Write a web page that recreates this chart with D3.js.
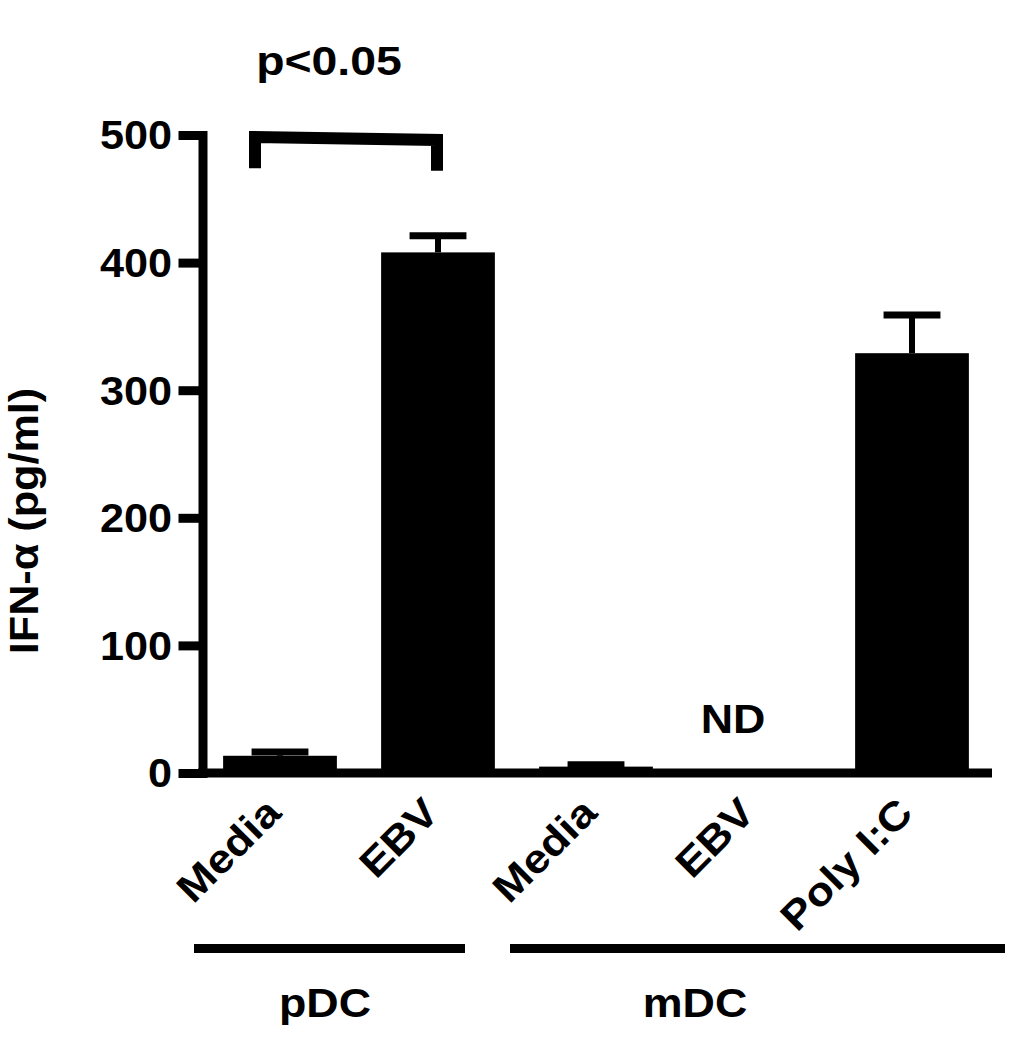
<!DOCTYPE html>
<html>
<head>
<meta charset="utf-8">
<script src="https://cdn.jsdelivr.net/npm/d3@7"></script>
<style>
  html, body { margin: 0; padding: 0; background: #fff; }
  text { font-family: "Liberation Sans", Arial, Helvetica, sans-serif; font-weight: bold; fill: #000; }
</style>
</head>
<body>
<svg id="chart" width="1020" height="1050"></svg>
<script>
// ---- data ----
const categories = ["pDC Media", "pDC EBV", "mDC Media", "mDC EBV", "mDC Poly I:C"];
const tickLabels = ["Media", "EBV", "Media", "EBV", "Poly I:C"];
const means = [13.5, 408, 5, null, 329];
const errors = [3, 13, 1.5, null, 30];
const yTicks = [0, 100, 200, 300, 400, 500];
const groups = ["pDC", "mDC"];
const groupMembers = [["pDC Media", "pDC EBV"], ["mDC Media", "mDC EBV", "mDC Poly I:C"]];
const yTitle = "IFN-α (pg/ml)";
const sigText = "p<0.05";
const ndText = "ND";

// ---- layout ----
const svg = d3.select("#chart");
const SX = 1.12; // horizontal stretch of lettering
const FS = 40;

const y = d3.scaleLinear().domain([0, 500]).range([773, 135]);
const x = d3.scaleBand().domain(categories).range([201, 991]).paddingInner(0.28).paddingOuter(0.14);
const bw = x.bandwidth();
const cx = c => x(c) + bw / 2;

function stretchedText(g, tx, ty, str, opts = {}) {
  const rot = opts.rotate || 0;
  const t = g.append("g").attr("transform", `translate(${tx},${ty}) rotate(${rot}) scale(${opts.sx || SX},1)`)
    .append("text")
    .attr("text-anchor", opts.anchor || "middle")
    .attr("font-size", opts.size || FS)
    .text(str);
  if (opts.dy) t.attr("dy", opts.dy);
  return t;
}

// bars
svg.append("g").selectAll("rect")
  .data(categories.map((c, i) => ({c, v: means[i], e: errors[i]})).filter(d => d.v != null))
  .join("rect")
  .attr("x", d => x(d.c))
  .attr("width", bw)
  .attr("y", d => y(d.v))
  .attr("height", d => y(0) - y(d.v))
  .attr("fill", "#000");

// error bars
const eb = svg.append("g");
categories.forEach((c, i) => {
  if (means[i] == null) return;
  const top = y(means[i] + errors[i]);
  eb.append("line").attr("x1", cx(c)).attr("x2", cx(c))
    .attr("y1", y(means[i])).attr("y2", top)
    .attr("stroke", "#000").attr("stroke-width", 6);
  eb.append("line").attr("x1", cx(c) - bw / 4).attr("x2", cx(c) + bw / 4)
    .attr("y1", top).attr("y2", top)
    .attr("stroke", "#000").attr("stroke-width", 7);
});

// y axis
const yAxis = d3.axisLeft(y).tickValues(yTicks).tickSize(24).tickSizeOuter(0).tickFormat(() => "");
const yg = svg.append("g").attr("transform", "translate(202.5,0)").call(yAxis);
yg.select(".domain").attr("stroke", "#000").attr("stroke-width", 9).attr("stroke-linecap", "square");
yg.selectAll(".tick line").attr("stroke", "#000").attr("stroke-width", 9);
yTicks.forEach(v => {
  stretchedText(svg, 172, y(v), d3.format("d")(v), {anchor: "end", dy: "0.36em", sx: 1.08});
});

// x axis
const xAxis = d3.axisBottom(x).tickSize(0).tickFormat(() => "");
const xg = svg.append("g").attr("transform", `translate(0,${y(0)})`).call(xAxis);
xg.select(".domain").attr("stroke", "#000").attr("stroke-width", 9)
  .attr("d", `M198,0H992`);

// rotated category labels
categories.forEach((c, i) => {
  stretchedText(svg, cx(c) + 3, 815, tickLabels[i], {anchor: "end", rotate: -45});
});

// ND label
stretchedText(svg, cx("mDC EBV") - 21, 733, ndText);

// group lines and labels
const groupLineExt = [[194, 465], [510, 1005]];
groups.forEach((gname, gi) => {
  const [a, b] = groupLineExt[gi];
  svg.append("line").attr("x1", a).attr("x2", b).attr("y1", 948.5).attr("y2", 948.5)
    .attr("stroke", "#000").attr("stroke-width", 9);
});
stretchedText(svg, 325, 1017, groups[0]);
stretchedText(svg, 695, 1017, groups[1]);

// y title
stretchedText(svg, 38, 521, yTitle, {rotate: -90, sx: 1.08, size: 40});

// significance bracket
const bl = cx("pDC Media") - 25, br = cx("pDC EBV") - 1;
svg.append("path")
  .attr("d", `M${bl},${y(474)} L${bl},${y(500)+2} L${br},${y(500)+5} L${br},${y(472)}`)
  .attr("fill", "none").attr("stroke", "#000").attr("stroke-width", 12).attr("stroke-linejoin", "miter");
stretchedText(svg, 329, 75, sigText, {sx: 1.16});
</script>
</body>
</html>
